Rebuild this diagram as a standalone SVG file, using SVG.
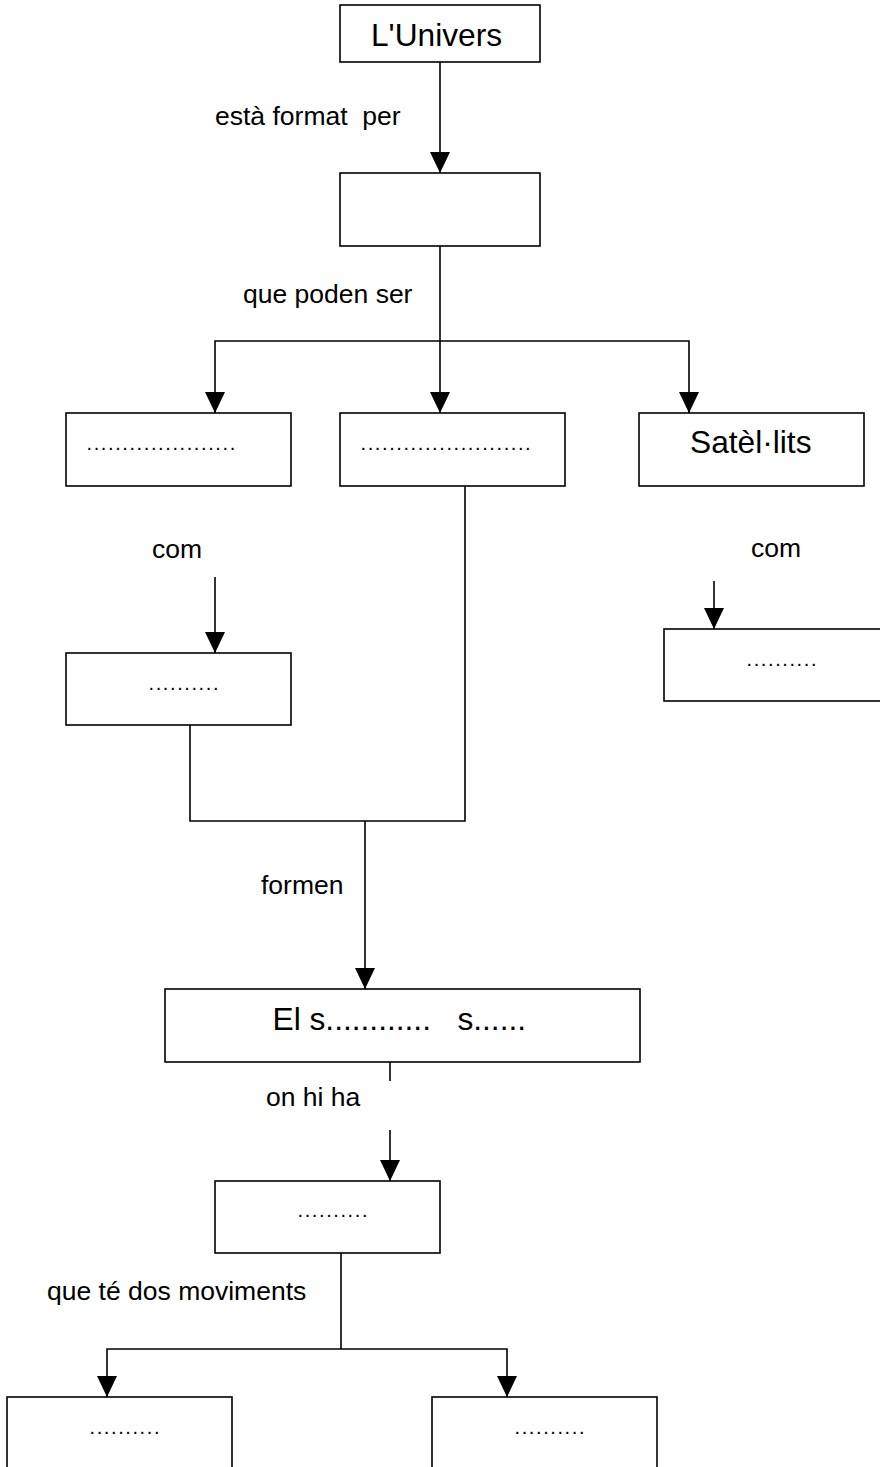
<svg xmlns="http://www.w3.org/2000/svg" width="880" height="1467" viewBox="0 0 880 1467">
<style>
.box{fill:#fff;stroke:#000;stroke-width:1.6}
.ln{fill:none;stroke:#000;stroke-width:1.6}
.lbl{font-family:"Liberation Sans",Arial,sans-serif;font-size:26.5px;fill:#000;white-space:pre}
.big{font-family:"Liberation Sans",Arial,sans-serif;font-size:31.7px;fill:#000;white-space:pre}
.dot{font-family:"Liberation Sans",Arial,sans-serif;font-size:20px;letter-spacing:1.6px;fill:#000}
</style>
<defs>
<marker id="ah" markerUnits="userSpaceOnUse" markerWidth="22" markerHeight="22" refX="21" refY="10" orient="auto" viewBox="0 0 22 20">
<path d="M0,0 L21,10 L0,20 z" fill="#000"/>
</marker>
</defs>
<rect width="880" height="1467" fill="#fff"/>
<g id="connectors">
<line class="ln" x1="440" y1="62" x2="440" y2="173" marker-end="url(#ah)"/>
<line class="ln" x1="440" y1="246" x2="440" y2="413" marker-end="url(#ah)"/>
<path class="ln" d="M440,341 H215 V413" marker-end="url(#ah)"/>
<path class="ln" d="M440,341 H689 V413" marker-end="url(#ah)"/>
<line class="ln" x1="215" y1="577" x2="215" y2="653" marker-end="url(#ah)"/>
<line class="ln" x1="714" y1="581" x2="714" y2="629" marker-end="url(#ah)"/>
<path class="ln" d="M190,725 V821 H465 V486"/>
<line class="ln" x1="365" y1="821" x2="365" y2="989" marker-end="url(#ah)"/>
<line class="ln" x1="390" y1="1062" x2="390" y2="1081"/>
<line class="ln" x1="390" y1="1130" x2="390" y2="1181" marker-end="url(#ah)"/>
<line class="ln" x1="341" y1="1253" x2="341" y2="1349"/>
<path class="ln" d="M341,1349 H107 V1397" marker-end="url(#ah)"/>
<path class="ln" d="M341,1349 H507 V1397" marker-end="url(#ah)"/>
<text class="lbl" x="215" y="125" xml:space="preserve">està format  per</text>
<text class="lbl" x="243" y="303">que poden ser</text>
<text class="lbl" x="152" y="558">com</text>
<text class="lbl" x="751" y="557">com</text>
<text class="lbl" x="261" y="894">formen</text>
<text class="lbl" x="266" y="1106">on hi ha</text>
<text class="lbl" x="47" y="1300">que té dos moviments</text>
</g>
<g id="n1"><rect class="box" x="340" y="5" width="200" height="57"/><text class="big" x="371" y="46">L'Univers</text></g>
<g id="n2"><rect class="box" x="340" y="173" width="200" height="73"/></g>
<g id="n3"><rect class="box" x="66" y="413" width="225" height="73"/><text class="dot" x="86.5" y="450">.....................</text></g>
<g id="n4"><rect class="box" x="340" y="413" width="225" height="73"/><text class="dot" x="360.5" y="450">........................</text></g>
<g id="n5"><rect class="box" x="639" y="413" width="225" height="73"/><text class="big" x="690" y="453">Satèl·lits</text></g>
<g id="n6"><rect class="box" x="66" y="653" width="225" height="72"/><text class="dot" x="148.5" y="690">..........</text></g>
<g id="n7"><rect class="box" x="664" y="629" width="230" height="72"/><text class="dot" x="746.5" y="666">..........</text></g>
<g id="n8"><rect class="box" x="165" y="989" width="475" height="73"/><text class="big" x="272.5" y="1030" xml:space="preserve">El s............   s......</text></g>
<g id="n9"><rect class="box" x="215" y="1181" width="225" height="72"/><text class="dot" x="297.5" y="1217">..........</text></g>
<g id="n10"><rect class="box" x="7" y="1397" width="225" height="90"/><text class="dot" x="89.5" y="1434">..........</text></g>
<g id="n11"><rect class="box" x="432" y="1397" width="225" height="90"/><text class="dot" x="514.5" y="1434">..........</text></g>
</svg>
